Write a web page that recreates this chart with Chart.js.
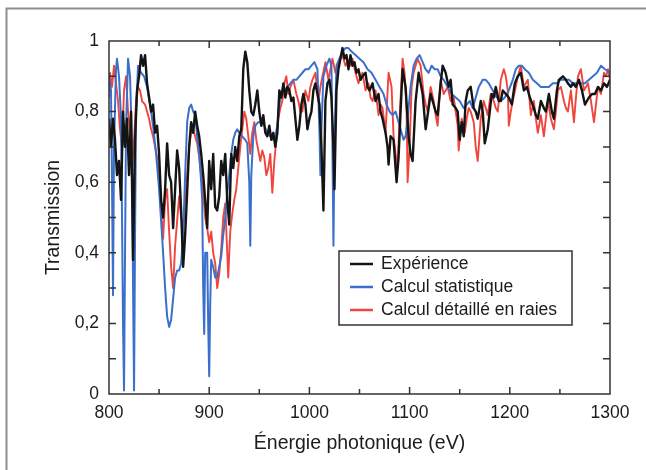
<!DOCTYPE html>
<html>
<head>
<meta charset="utf-8">
<script src="https://cdn.jsdelivr.net/npm/chart.js@4.4.1/dist/chart.umd.min.js"></script>
<style>
  html, body { margin: 0; padding: 0; background: #fff; }
  canvas { display: block; }
</style>
</head>
<body>
<canvas id="chart" width="646" height="470"></canvas>
<script>
// valeurs : [énergie (eV), transmission]
var experience = [
  [800,0.78],[802,0.70],[804,0.78],[806,0.72],[808,0.62],[810,0.66],[812,0.55],[814,0.80],
  [816,0.70],[818,0.78],[820,0.62],[822,0.80],[824,0.38],[826,0.72],[828,0.86],[830,0.90],
  [832,0.96],[834,0.93],[836,0.96],[838,0.88],[840,0.84],[842,0.80],[844,0.82],[846,0.74],
  [848,0.76],[850,0.68],[852,0.55],[854,0.50],[856,0.58],[858,0.71],[860,0.62],[862,0.60],
  [864,0.47],[866,0.58],[868,0.69],[870,0.64],[872,0.52],[874,0.36],[876,0.45],[878,0.57],
  [880,0.70],[882,0.77],[884,0.74],[886,0.80],[888,0.76],[890,0.73],[892,0.68],[894,0.62],
  [896,0.55],[898,0.47],[900,0.66],[902,0.58],[904,0.68],[906,0.53],[908,0.52],[910,0.56],
  [912,0.66],[914,0.62],[916,0.68],[918,0.55],[920,0.48],[922,0.68],[924,0.64],[926,0.70],
  [928,0.66],[930,0.73],[932,0.75],[934,0.92],[936,0.97],[938,0.94],[940,0.86],[942,0.80],
  [944,0.79],[946,0.82],[948,0.86],[950,0.80],[952,0.76],[954,0.79],[956,0.74],[958,0.73],
  [960,0.76],[962,0.72],[964,0.74],[966,0.70],[968,0.74],[970,0.86],[972,0.84],[974,0.88],
  [976,0.84],[978,0.87],[980,0.86],[982,0.83],[984,0.84],[986,0.78],[988,0.72],[990,0.76],
  [992,0.82],[994,0.85],[996,0.82],[998,0.75],[1000,0.78],[1002,0.80],[1004,0.86],[1006,0.88],
  [1008,0.85],[1010,0.82],[1012,0.70],[1014,0.52],[1016,0.83],[1018,0.88],[1020,0.89],[1022,0.84],
  [1024,0.70],[1025,0.58],[1027,0.86],[1029,0.92],[1031,0.95],[1033,0.98],[1035,0.95],[1037,0.96],
  [1039,0.92],[1041,0.96],[1043,0.93],[1045,0.94],[1047,0.91],[1049,0.92],[1051,0.89],[1053,0.90],
  [1056,0.91],[1058,0.87],[1060,0.86],[1063,0.88],[1066,0.83],[1069,0.85],[1071,0.80],[1073,0.78],
  [1076,0.74],[1078,0.70],[1079,0.65],[1081,0.73],[1084,0.72],[1087,0.60],[1089,0.67],[1091,0.80],
  [1093,0.92],[1096,0.87],[1099,0.73],[1101,0.68],[1103,0.66],[1106,0.83],[1109,0.91],[1111,0.88],
  [1113,0.85],[1116,0.75],[1119,0.81],[1121,0.85],[1123,0.83],[1126,0.80],[1128,0.79],[1131,0.88],
  [1133,0.93],[1136,0.91],[1139,0.87],[1141,0.89],[1143,0.82],[1146,0.81],[1148,0.80],[1150,0.72],
  [1152,0.77],[1154,0.73],[1156,0.83],[1158,0.86],[1161,0.87],[1164,0.81],[1166,0.80],[1168,0.78],
  [1171,0.83],[1173,0.80],[1175,0.71],[1178,0.75],[1180,0.80],[1182,0.85],[1184,0.84],[1186,0.87],
  [1189,0.83],[1191,0.83],[1193,0.86],[1196,0.85],[1199,0.84],[1202,0.82],[1205,0.88],[1208,0.90],
  [1211,0.91],[1214,0.86],[1217,0.87],[1220,0.84],[1224,0.81],[1226,0.79],[1228,0.78],[1231,0.83],
  [1234,0.81],[1236,0.80],[1239,0.85],[1242,0.80],[1244,0.78],[1247,0.86],[1249,0.89],[1253,0.90],
  [1256,0.89],[1258,0.88],[1261,0.87],[1263,0.88],[1266,0.87],[1269,0.89],[1272,0.86],[1275,0.82],
  [1277,0.83],[1279,0.84],[1282,0.85],[1285,0.85],[1288,0.87],[1291,0.86],[1294,0.88],[1297,0.87],
  [1300,0.89]
];

var statistique = [
  [800,0.90],[802,0.86],[803,0.60],[804,0.28],[805,0.70],[807,0.92],[808,0.95],[810,0.90],
  [812,0.78],[813,0.50],[814,0.20],[815,0.01],[816,0.40],[817,0.75],[819,0.95],[821,0.90],
  [823,0.70],[824,0.30],[825,0.01],[826,0.45],[827,0.80],[829,0.93],[832,0.91],[835,0.90],
  [838,0.87],[841,0.82],[844,0.76],[847,0.68],[850,0.58],[852,0.49],[854,0.40],[856,0.30],
  [858,0.22],[860,0.19],[862,0.21],[864,0.27],[866,0.33],[868,0.35],[870,0.35],[872,0.37],
  [874,0.45],[876,0.62],[878,0.77],[880,0.81],[882,0.82],[884,0.80],[886,0.79],[888,0.73],
  [890,0.68],[892,0.60],[893,0.55],[894,0.30],[895,0.17],[896,0.40],[898,0.40],[899,0.20],
  [900,0.05],[901,0.25],[902,0.38],[904,0.36],[906,0.33],[908,0.33],[910,0.36],[912,0.39],
  [914,0.45],[916,0.50],[918,0.57],[920,0.62],[922,0.68],[924,0.72],[926,0.74],[928,0.75],
  [930,0.74],[933,0.73],[936,0.72],[938,0.71],[940,0.60],[941,0.42],[942,0.62],[944,0.73],
  [946,0.76],[949,0.77],[952,0.77],[955,0.76],[958,0.74],[961,0.73],[964,0.72],[966,0.73],
  [968,0.76],[970,0.82],[972,0.85],[975,0.86],[978,0.87],[981,0.88],[984,0.89],[987,0.89],
  [990,0.90],[993,0.91],[996,0.92],[999,0.92],[1002,0.93],[1005,0.94],[1008,0.92],[1010,0.75],
  [1011,0.62],[1012,0.75],[1014,0.90],[1017,0.93],[1020,0.95],[1022,0.93],[1023,0.70],[1024,0.42],
  [1025,0.70],[1027,0.93],[1030,0.95],[1033,0.97],[1036,0.98],[1039,0.98],[1042,0.97],[1046,0.96],
  [1050,0.95],[1054,0.94],[1058,0.92],[1062,0.91],[1066,0.89],[1070,0.87],[1074,0.85],[1077,0.82],
  [1080,0.80],[1083,0.79],[1086,0.80],[1089,0.77],[1092,0.74],[1094,0.72],[1096,0.73],[1098,0.78],
  [1101,0.87],[1104,0.93],[1107,0.95],[1110,0.96],[1113,0.94],[1116,0.92],[1119,0.91],[1122,0.93],
  [1125,0.92],[1128,0.92],[1131,0.90],[1134,0.89],[1138,0.87],[1142,0.85],[1146,0.84],[1150,0.83],
  [1154,0.81],[1157,0.82],[1160,0.83],[1163,0.81],[1166,0.84],[1169,0.87],[1173,0.89],[1176,0.89],
  [1179,0.88],[1183,0.86],[1187,0.84],[1191,0.83],[1195,0.84],[1199,0.86],[1203,0.89],[1206,0.92],
  [1209,0.93],[1212,0.93],[1215,0.92],[1219,0.91],[1223,0.89],[1227,0.88],[1231,0.87],[1235,0.87],
  [1239,0.87],[1243,0.88],[1247,0.88],[1251,0.89],[1255,0.89],[1259,0.89],[1263,0.88],[1267,0.88],
  [1271,0.88],[1275,0.88],[1279,0.89],[1283,0.90],[1287,0.91],[1291,0.93],[1295,0.92],[1300,0.91]
];

var raies = [
  [800,0.84],[801,0.91],[803,0.87],[805,0.93],[807,0.88],[809,0.83],[811,0.75],[813,0.70],
  [815,0.86],[817,0.90],[819,0.80],[821,0.75],[823,0.64],[825,0.72],[827,0.83],[829,0.87],
  [831,0.86],[833,0.83],[836,0.82],[838,0.80],[840,0.78],[842,0.75],[844,0.73],[846,0.70],
  [848,0.67],[850,0.62],[852,0.52],[854,0.44],[856,0.55],[858,0.58],[860,0.46],[862,0.36],
  [864,0.30],[866,0.42],[868,0.49],[870,0.56],[872,0.50],[874,0.47],[876,0.55],[878,0.62],
  [880,0.70],[882,0.74],[884,0.75],[886,0.73],[888,0.71],[890,0.67],[892,0.62],[894,0.57],
  [896,0.50],[898,0.47],[900,0.43],[902,0.46],[904,0.40],[906,0.37],[908,0.30],[910,0.34],
  [912,0.41],[914,0.50],[916,0.54],[918,0.40],[919,0.33],[921,0.46],[923,0.51],[925,0.55],
  [927,0.58],[929,0.64],[931,0.70],[933,0.75],[935,0.80],[937,0.78],[939,0.73],[941,0.68],
  [943,0.74],[945,0.77],[947,0.72],[949,0.69],[951,0.66],[953,0.69],[955,0.67],[957,0.62],
  [959,0.64],[961,0.68],[963,0.57],[965,0.66],[967,0.72],[969,0.78],[971,0.81],[973,0.83],
  [975,0.88],[977,0.90],[979,0.85],[981,0.87],[984,0.89],[987,0.85],[989,0.83],[991,0.80],
  [993,0.80],[996,0.86],[999,0.83],[1001,0.87],[1003,0.89],[1006,0.91],[1009,0.83],[1011,0.87],
  [1013,0.90],[1016,0.94],[1019,0.89],[1021,0.92],[1023,0.95],[1026,0.91],[1028,0.93],[1031,0.95],
  [1033,0.96],[1036,0.93],[1038,0.94],[1041,0.93],[1043,0.95],[1046,0.91],[1049,0.88],[1051,0.90],
  [1053,0.91],[1056,0.86],[1059,0.88],[1061,0.84],[1063,0.83],[1066,0.86],[1069,0.79],[1071,0.82],
  [1073,0.81],[1076,0.74],[1077,0.80],[1079,0.91],[1082,0.87],[1084,0.73],[1086,0.68],[1088,0.64],
  [1090,0.78],[1093,0.95],[1095,0.91],[1097,0.80],[1098,0.60],[1100,0.70],[1102,0.87],[1104,0.91],
  [1106,0.93],[1108,0.95],[1111,0.93],[1114,0.85],[1116,0.82],[1118,0.80],[1121,0.87],[1124,0.83],
  [1126,0.79],[1128,0.76],[1131,0.89],[1134,0.85],[1136,0.86],[1138,0.87],[1141,0.83],[1144,0.84],
  [1146,0.80],[1148,0.76],[1149,0.69],[1151,0.75],[1152,0.78],[1155,0.74],[1157,0.78],[1159,0.81],
  [1161,0.80],[1164,0.77],[1166,0.70],[1168,0.66],[1170,0.74],[1171,0.78],[1174,0.83],[1176,0.81],
  [1178,0.79],[1181,0.85],[1184,0.83],[1186,0.81],[1188,0.80],[1191,0.89],[1194,0.92],[1196,0.90],
  [1198,0.86],[1199,0.76],[1201,0.80],[1203,0.83],[1206,0.87],[1208,0.90],[1211,0.93],[1214,0.87],
  [1218,0.89],[1221,0.79],[1224,0.83],[1226,0.78],[1228,0.74],[1231,0.79],[1234,0.73],[1236,0.78],
  [1238,0.83],[1241,0.78],[1244,0.75],[1246,0.80],[1248,0.86],[1251,0.87],[1254,0.83],[1256,0.81],
  [1258,0.80],[1261,0.86],[1264,0.77],[1266,0.84],[1268,0.90],[1271,0.92],[1274,0.86],[1276,0.87],
  [1278,0.88],[1281,0.83],[1284,0.77],[1286,0.82],[1288,0.87],[1291,0.85],[1294,0.91],[1296,0.90],
  [1298,0.92],[1300,0.89]
];

var seriesLabels = ['Expérience', 'Calcul statistique', 'Calcul détaillé en raies'];
var seriesColors = ['#141414', '#3a70cc', '#f0453d'];
var xTickLabels = ['800', '900', '1000', '1100', '1200', '1300'];
var yTickLabels = ['0', '0,2', '0,4', '0,6', '0,8', '1'];

var FONT = "'Liberation Sans', Arial, sans-serif";
var TEXT = '#1c1c1c';

function toPoints(arr) {
  return arr.map(function (p) { return { x: p[0], y: p[1] }; });
}

// cadre gris autour de la figure
var framePlugin = {
  id: 'frame',
  beforeDraw: function (chart) {
    var ctx = chart.ctx;
    ctx.save();
    ctx.strokeStyle = '#8e8e8e';
    ctx.lineWidth = 2;
    ctx.beginPath();
    ctx.moveTo(6.5, 470);
    ctx.lineTo(6.5, 8.5);
    ctx.lineTo(646, 8.5);
    ctx.stroke();
    ctx.restore();
  }
};

// bordure de la zone de tracé + graduations vers l'intérieur sur les 4 côtés
var innerTicksPlugin = {
  id: 'innerTicks',
  afterDraw: function (chart) {
    var ctx = chart.ctx, a = chart.chartArea;
    var x = chart.scales.x, y = chart.scales.y;
    ctx.save();
    ctx.strokeStyle = '#333';
    ctx.lineWidth = 1.5;
    ctx.strokeRect(a.left, a.top, a.right - a.left, a.bottom - a.top);
    ctx.beginPath();
    for (var e = 850; e < 1300; e += 50) {
      var px = x.getPixelForValue(e);
      var len = (e % 100 === 0) ? 7 : 5;
      ctx.moveTo(px, a.bottom); ctx.lineTo(px, a.bottom - len);
      ctx.moveTo(px, a.top); ctx.lineTo(px, a.top + len);
    }
    for (var i = 1; i < 10; i++) {
      var py = y.getPixelForValue(i / 10);
      ctx.moveTo(a.left, py); ctx.lineTo(a.left + 7, py);
      ctx.moveTo(a.right, py); ctx.lineTo(a.right - 7, py);
    }
    ctx.stroke();
    ctx.restore();
  }
};

// légende encadrée dans le graphe
var legendBoxPlugin = {
  id: 'legendBox',
  afterDraw: function (chart) {
    var ctx = chart.ctx;
    var bx = 339, by = 251, bw = 233, bh = 74;
    ctx.save();
    ctx.fillStyle = '#fff';
    ctx.fillRect(bx, by, bw, bh);
    ctx.strokeStyle = '#333';
    ctx.lineWidth = 1.5;
    ctx.strokeRect(bx, by, bw, bh);
    ctx.font = '17.5px ' + FONT;
    ctx.textBaseline = 'middle';
    chart.data.datasets.forEach(function (ds, i) {
      var cy = 264 + i * 23;
      ctx.strokeStyle = ds.borderColor;
      ctx.lineWidth = 2.5;
      ctx.beginPath();
      ctx.moveTo(350, cy); ctx.lineTo(373, cy);
      ctx.stroke();
      ctx.fillStyle = TEXT;
      ctx.fillText(ds.label, 381, cy);
    });
    ctx.restore();
  }
};

var ctx = document.getElementById('chart').getContext('2d');
var myChart = new Chart(ctx, {
  type: 'line',
  data: {
    datasets: [
      { label: seriesLabels[0], data: toPoints(experience), borderColor: seriesColors[0], borderWidth: 2.4 },
      { label: seriesLabels[1], data: toPoints(statistique), borderColor: seriesColors[1], borderWidth: 2 },
      { label: seriesLabels[2], data: toPoints(raies), borderColor: seriesColors[2], borderWidth: 1.9 }
    ]
  },
  options: {
    responsive: false,
    animation: false,
    elements: {
      point: { radius: 0 },
      line: { tension: 0, borderJoinStyle: 'round' }
    },
    layout: { padding: { left: 0, top: 41, right: 36, bottom: 0 } },
    plugins: {
      legend: { display: false },
      tooltip: { enabled: false }
    },
    scales: {
      x: {
        type: 'linear',
        min: 800,
        max: 1300,
        afterFit: function (s) { s.height = 76; },
        grid: { display: false, drawTicks: false },
        border: { display: false },
        ticks: {
          stepSize: 100,
          padding: 9,
          color: TEXT,
          font: { family: FONT, size: 17.5 },
          callback: function (v) { return xTickLabels[Math.round((v - 800) / 100)]; }
        },
        title: {
          display: true,
          text: 'Énergie photonique (eV)',
          color: TEXT,
          font: { family: FONT, size: 19.5 },
          padding: { top: 0, bottom: 15 }
        }
      },
      y: {
        type: 'linear',
        min: 0,
        max: 1,
        afterFit: function (s) { s.width = 109; },
        grid: { display: false, drawTicks: false },
        border: { display: false },
        ticks: {
          stepSize: 0.2,
          padding: 10,
          color: TEXT,
          font: { family: FONT, size: 17.5 },
          callback: function (v) { return yTickLabels[Math.round(v / 0.2)]; }
        },
        title: {
          display: true,
          text: 'Transmission',
          color: TEXT,
          font: { family: FONT, size: 19.5 },
          padding: { top: 42, bottom: 0 }
        }
      }
    }
  },
  plugins: [framePlugin, innerTicksPlugin, legendBoxPlugin]
});
</script>
</body>
</html>
